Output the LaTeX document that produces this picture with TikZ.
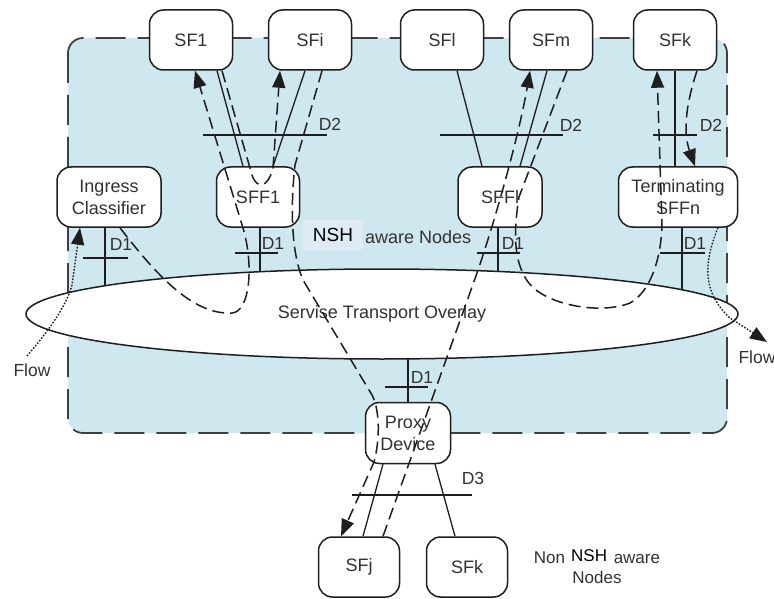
\documentclass[tikz,border=0pt]{standalone}
\usepackage{fontspec}
\setmainfont{Liberation Sans}
\usetikzlibrary{shapes.geometric,arrows.meta,calc}
\definecolor{bluefill}{RGB}{207,231,238}
\definecolor{nshfill}{RGB}{222,234,244}
\definecolor{ink}{RGB}{30,30,30}
\definecolor{txtc}{RGB}{50,50,50}
\pgfdeclarelayer{bg}\pgfdeclarelayer{mid}\pgfdeclarelayer{fg}
\pgfsetlayers{bg,mid,main,fg}
\begin{document}
\begin{tikzpicture}[x=1pt,y=-1pt,
 box/.style={draw=ink, line width=1.5pt, fill=white, rounded corners=14pt, minimum width=83pt, minimum height=60pt, inner sep=1pt, align=center, font=\fontsize{18}{22}\selectfont, text=txtc},
 link/.style={draw=ink, line width=1.3pt},
 pathd/.style={draw=ink, line width=1.5pt, dash pattern=on 12pt off 6pt},
 tipe/.style={-{Triangle[length=17pt,width=13pt]}},
 flowd/.style={draw=ink, line width=1.4pt, dash pattern=on 1.6pt off 1.6pt},
 lbl/.style={font=\fontsize{17.5}{21}\selectfont, text=txtc, inner sep=0pt},
]
\useasboundingbox (0,0) rectangle (774,599);
% boxes
\node[box] (sf1) at (191,40) {SF1};
\node[box] (sfi) at (310,40) {SFi};
\node[box] (sfl) at (442,40) {SFl};
\node[box] (sfm) at (551,40) {SFm};
\node[box] (sfk) at (675,40) {SFk};
\node[box, minimum width=104pt] (ing) at (109,197) {Ingress\\Classifier};
\node[box] (sff1) at (258,197) {SFF1};
\node[box, minimum width=84pt] (sffl) at (500,197) {SFFl};
\node[box, minimum width=119pt] (term) at (678,197) {Terminating\\SFFn};
\node[box, minimum width=85pt, minimum height=61pt] (proxy) at (408,433) {Proxy\\Device};
\node[box, minimum width=81pt] (sfj) at (359,567) {SFj};
\node[box, minimum width=81pt] (sfk2) at (467,567) {SFk};
\node[lbl, draw=ink, line width=1.5pt, fill=white, ellipse, minimum width=712pt, minimum height=90pt, font=\fontsize{18}{22}\selectfont] (ovl) at (382,314) {Servise Transport Overlay};
% texts
\node[fill=nshfill, minimum width=60pt, minimum height=30pt, inner sep=0pt, font=\fontsize{19}{22}\selectfont, text=black] (nsh) at (333,235) {NSH};
\node[lbl, anchor=west, font=\fontsize{18}{22}\selectfont] (aware) at (365,237) {aware Nodes};
\node[lbl, align=center, font=\fontsize{17}{20}\selectfont] (non) at (597,567) {Non\hspace{6pt}\raisebox{2pt}{\color{black}NSH}\hspace{2pt} aware\\Nodes};
\node[lbl] (flowin) at (32,370) {Flow};
\node[lbl] (flowout) at (757,357) {Flow};
\coordinate (flowstart) at (27,356);
\coordinate (flowend) at (767,342);
% background frame
\begin{pgfonlayer}{bg}
\path[fill=bluefill, draw=ink!85, line width=1.8pt, dash pattern=on 30pt off 12pt, rounded corners=15pt] (68,38) rectangle (727,433);
\end{pgfonlayer}
% D1 drops into the overlay
\begin{pgfonlayer}{mid}
\draw[link] ([xshift=-4pt]ing.south) -- ++(0,80);
\draw[link] ([xshift=2pt]sff1.south) -- ++(0,80);
\draw[link] ([xshift=-2pt]sffl.south) -- ++(0,80);
\draw[link] ([xshift=4pt]term.south) -- ++(0,80);
\draw[link] (proxy.north) -- ++(0,-80);
\end{pgfonlayer}
% solid links
\draw[link] ([xshift=26pt]sf1.south) -- ([xshift=-15pt]sff1.north);
\draw[link] ([xshift=-5pt]sfi.south) -- ([xshift=15pt]sff1.north);
\draw[link] ([xshift=15pt]sfl.south) -- ([xshift=-18pt]sffl.north);
\draw[link] ([xshift=-4pt]sfm.south) -- ([xshift=20pt]sffl.north);
\draw[link] (sfk.south) -- (sfk.south |- term.north);
\draw[link] ([xshift=-25pt]proxy.south) -- ([xshift=4pt]sfj.north);
\draw[link] ([xshift=27pt]proxy.south) -- ([xshift=-12pt]sfk2.north);
% interface ticks and labels
\draw[link] (83,258) -- (128,258);  \node[lbl] at (121,244) {D1};
\draw[link] (235,253) -- (278,253); \node[lbl] at (273,243) {D1};
\draw[link] (477,253) -- (520,253); \node[lbl] at (513,243) {D1};
\draw[link] (660,253) -- (705,253); \node[lbl] at (695,243) {D1};
\draw[link] (385,387) -- (428,387); \node[lbl] at (422,377) {D1};
\draw[link] (352,495) -- (472,495); \node[lbl] at (473,478) {D3};
\draw[link] (203,135) -- (327,135); \node[lbl] at (330,124) {D2};
\draw[link] (440,135) -- (563,135); \node[lbl] at (571,125) {D2};
\draw[link] (653,135) -- (697,135); \node[lbl] at (711,125) {D2};
% service paths
\begin{pgfonlayer}{fg}
\draw[pathd, tipe] ([xshift=11pt]ing.south) .. controls (160,280) and (195,315) .. (232,313) .. controls (250,312) and (254,265) .. (243,228) -- ([xshift=4pt]sf1.south);
\draw[pathd, tipe] ([xshift=31pt]sf1.south) -- (252,175) .. controls (257,190) and (268,188) .. (273,168) -- ([xshift=-30pt]sfi.south);
\draw[pathd, tipe] ([xshift=12pt]sfi.south) -- (295,165) .. controls (291,200) and (290,250) .. (303,280) -- (372,395) .. controls (380,410) and (380,440) .. (374,462) -- ([xshift=-18pt]sfj.north);
\draw[pathd, tipe] ([xshift=24pt]sfj.north) -- (477,273) .. controls (497,215) and (520,130) .. ([xshift=-21pt]sfm.south);
\draw[pathd, tipe] ([xshift=16pt]sfm.south) -- (519,197) .. controls (513,235) and (514,262) .. (528,282) .. controls (545,305) and (600,315) .. (630,303) .. controls (650,292) and (661,260) .. (662,225) -- ([xshift=-18pt]sfk.south);
\draw[pathd, tipe] ([xshift=22pt]sfk.south) .. controls (684,110) and (684,135) .. ([xshift=17pt]term.north);
\draw[flowd, tipe] ([xshift=40pt]term.south) .. controls (705,260) and (700,290) .. (730,318) -- (flowend);
\draw[flowd, tipe] (flowstart) .. controls (45,335) and (66,308) .. (72,285) -- ([xshift=-29pt]ing.south);
\end{pgfonlayer}
\end{tikzpicture}
\end{document}
